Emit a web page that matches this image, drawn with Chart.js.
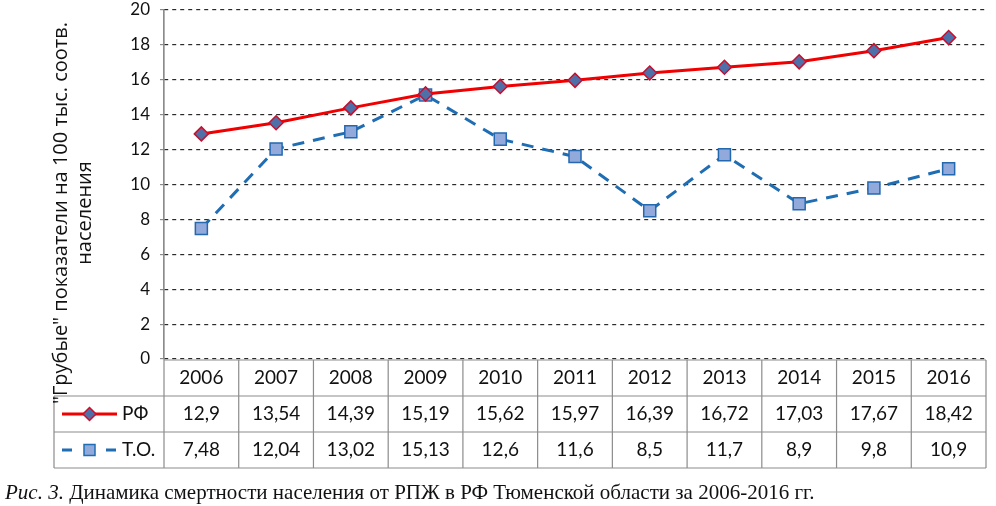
<!DOCTYPE html>
<html>
<head>
<meta charset="utf-8">
<script src="https://cdn.jsdelivr.net/npm/chart.js@4"></script>
<style>
    html, body { margin: 0; padding: 0; background: #fff; }
    #wrap { position: relative; width: 996px; height: 506px; }
</style>
</head>
<body>
<div id="wrap"><canvas id="mortalityChart"></canvas></div>
<script>
// Data
const years = ['2006', '2007', '2008', '2009', '2010', '2011', '2012', '2013', '2014', '2015', '2016'];
const rfValues = [12.9, 13.54, 14.39, 15.19, 15.62, 15.97, 16.39, 16.72, 17.03, 17.67, 18.42];
const toValues = [7.48, 12.04, 13.02, 15.13, 12.6, 11.6, 8.5, 11.7, 8.9, 9.8, 10.9];
const seriesNames = ['РФ', 'Т.О.'];
const yTitleLines = ['"Грубые" показатели на 100 тыс. соотв.', 'населения'];
const captionItalic = 'Рис. 3.';
const captionText = ' Динамика смертности населения от РПЖ в РФ Тюменской области за 2006-2016 гг.';

const fmt = v => String(v).replace('.', ',');

const tableFont = '19px Lato, "Open Sans", sans-serif';
const rowH = 36;

// Table under the chart + y title + caption
const extrasPlugin = {
    id: 'extras',
    afterDraw(chart) {
        const ctx = chart.ctx;
        const x = chart.scales.x;
        const area = chart.chartArea;
        const step = x.getPixelForValue(1) - x.getPixelForValue(0);
        const top = area.bottom + 1;
        const legendLeft = 54;
        const right = area.right;
        const bottom = top + rowH * 3;

        ctx.save();
        ctx.strokeStyle = '#8c8c8c';
        ctx.lineWidth = 1.2;
        ctx.beginPath();
        ctx.moveTo(area.left, top); ctx.lineTo(right, top);
        for (let r = 1; r <= 3; r++) {
            ctx.moveTo(legendLeft, top + rowH * r); ctx.lineTo(right, top + rowH * r);
        }
        ctx.moveTo(legendLeft, top + rowH); ctx.lineTo(legendLeft, bottom);
        ctx.moveTo(area.left, area.top); ctx.lineTo(area.left, bottom);
        years.forEach((y, i) => {
            const bx = x.getPixelForValue(i) + step / 2;
            ctx.moveTo(bx, top); ctx.lineTo(bx, bottom);
        });
        ctx.stroke();

        ctx.fillStyle = '#111';
        ctx.font = tableFont;
        ctx.textAlign = 'center';
        ctx.textBaseline = 'middle';
        years.forEach((y, i) => {
            const cx = x.getPixelForValue(i);
            ctx.fillText(y, cx, top + rowH * 0.5);
            ctx.fillText(fmt(rfValues[i]), cx, top + rowH * 1.5);
            ctx.fillText(fmt(toValues[i]), cx, top + rowH * 2.5);
        });

        // legend keys
        const ds = chart.data.datasets;
        const y1 = top + rowH * 1.5, y2 = top + rowH * 2.5;
        ctx.lineWidth = 3;
        ctx.strokeStyle = ds[0].borderColor;
        ctx.beginPath(); ctx.moveTo(62, y1); ctx.lineTo(117, y1); ctx.stroke();
        ctx.fillStyle = ds[0].pointBackgroundColor;
        ctx.strokeStyle = ds[0].pointBorderColor;
        ctx.lineWidth = 1.5;
        ctx.beginPath();
        ctx.moveTo(89.5, y1 - 6.5); ctx.lineTo(96, y1); ctx.lineTo(89.5, y1 + 6.5); ctx.lineTo(83, y1); ctx.closePath();
        ctx.fill(); ctx.stroke();

        ctx.strokeStyle = ds[1].borderColor;
        ctx.lineWidth = 3;
        ctx.beginPath();
        ctx.moveTo(62, y2); ctx.lineTo(72, y2);
        ctx.moveTo(106, y2); ctx.lineTo(116, y2);
        ctx.stroke();
        ctx.fillStyle = ds[1].pointBackgroundColor;
        ctx.lineWidth = 1.5;
        ctx.fillRect(84, y2 - 5.5, 11, 11);
        ctx.strokeRect(84, y2 - 5.5, 11, 11);

        ctx.fillStyle = '#111';
        ctx.textAlign = 'left';
        ctx.fillText(seriesNames[0], 122, y1);
        ctx.fillText(seriesNames[1], 122, y2);

        // y axis title
        ctx.save();
        ctx.translate(72, 213);
        ctx.rotate(-Math.PI / 2);
        ctx.font = '20px "Open Sans", Lato, sans-serif';
        ctx.textAlign = 'center';
        ctx.fillText(yTitleLines[0], 0, -11);
        ctx.fillText(yTitleLines[1], 0, 13);
        ctx.restore();

        // caption
        ctx.textBaseline = 'alphabetic';
        ctx.textAlign = 'left';
        ctx.font = 'italic 21px "Liberation Serif", serif';
        ctx.fillText(captionItalic, 5, 499);
        const w = ctx.measureText(captionItalic).width;
        ctx.font = '21px "Liberation Serif", serif';
        ctx.fillText(captionText, 5 + w, 499);
        ctx.restore();
    }
};

const ctx = document.getElementById('mortalityChart').getContext('2d');
const mortalityChart = new Chart(ctx, {
    type: 'line',
    data: {
        labels: years,
        datasets: [{
            label: seriesNames[0],
            data: rfValues,
            borderColor: '#f00000',
            borderWidth: 3,
            pointStyle: 'rectRot',
            pointRadius: 7,
            pointBackgroundColor: '#4f6fa8',
            pointBorderColor: '#c8102e',
            pointBorderWidth: 1.5,
            tension: 0
        }, {
            label: seriesNames[1],
            data: toValues,
            borderColor: '#1f6db3',
            borderWidth: 3,
            borderDash: [12, 9],
            pointStyle: 'rect',
            pointRadius: 8.5,
            pointBackgroundColor: '#92a9db',
            pointBorderColor: '#2468b0',
            pointBorderWidth: 1.5,
            tension: 0
        }]
    },
    options: {
        responsive: true,
        maintainAspectRatio: false,
        animation: false,
        layout: {
            padding: { top: 6, right: 3, bottom: 147, left: 0 }
        },
        plugins: {
            legend: { display: false },
            tooltip: { enabled: false }
        },
        scales: {
            x: {
                display: false,
                offset: true
            },
            y: {
                min: 0,
                max: 20,
                ticks: {
                    stepSize: 2,
                    color: '#111',
                    padding: 10,
                    font: { family: 'Lato, "Open Sans", sans-serif', size: 17, lineHeight: 1 }
                },
                grid: {
                    color: '#2a2a2a',
                    lineWidth: 1.2,
                    tickLength: 4,
                    tickColor: '#8c8c8c',
                    drawOnChartArea: true
                },
                border: {
                    display: true,
                    color: '#8c8c8c',
                    width: 1.2,
                    dash: [4, 4]
                },
                afterFit(scale) {
                    scale.width = 164;
                    scale.paddingTop = 0;
                    scale.paddingBottom = 0;
                }
            }
        }
    },
    plugins: [extrasPlugin]
});
</script>
</body>
</html>
